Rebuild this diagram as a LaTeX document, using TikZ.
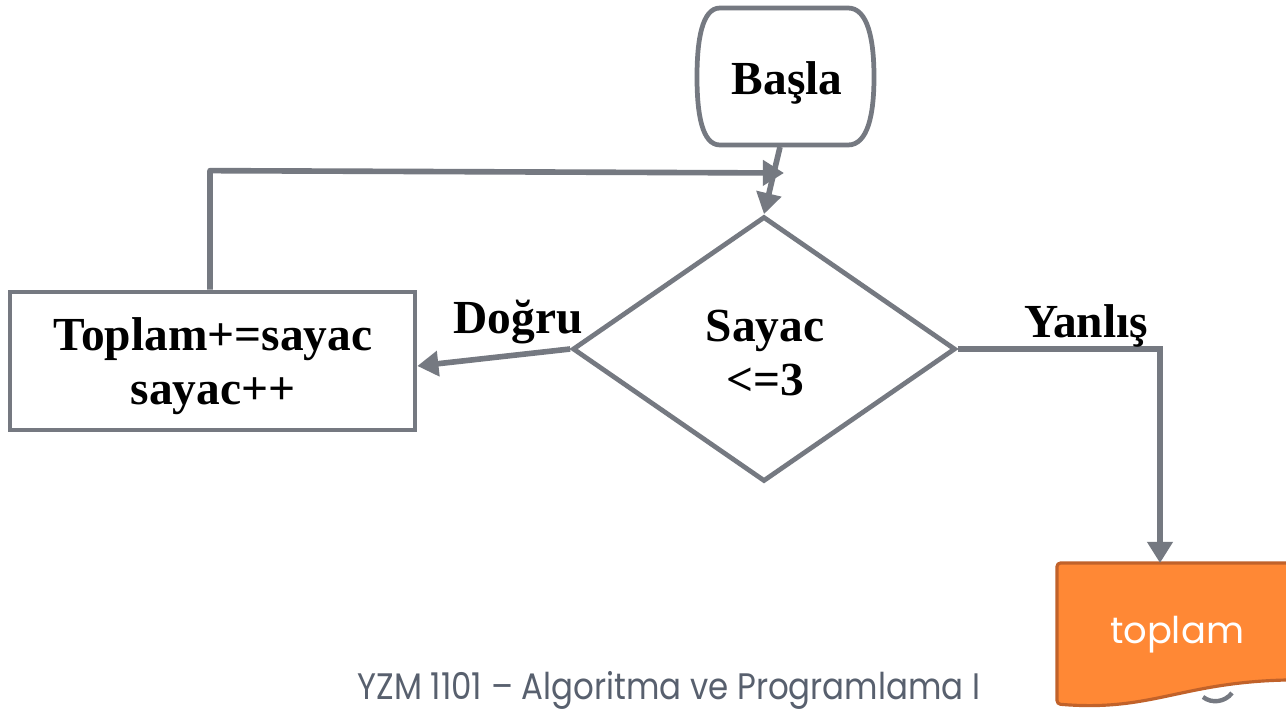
\documentclass[tikz,border=0pt]{standalone}
\usepackage{fontspec}
\setmainfont{Liberation Serif}
\newfontfamily\geofont{Poppins}
\usetikzlibrary{arrows.meta,shapes.geometric}
\definecolor{flowgray}{RGB}{117,121,129}
\definecolor{outorange}{RGB}{255,136,53}
\definecolor{outedge}{RGB}{193,98,42}
\definecolor{footgray}{RGB}{88,96,110}
\tikzset{
  conn/.style={draw=flowgray, line width=3.2pt, line join=round,
    -{Triangle[length=12pt,width=14pt]}},
  boxline/.style={draw=flowgray, line width=2.7pt},
  bigtxt/.style={font=\fontsize{27}{31}\selectfont\bfseries, align=center, inner sep=0pt},
}
\begin{document}
\begin{tikzpicture}[x=0.02cm,y=-0.02cm]
\useasboundingbox (0,0) rectangle (1286,710);
\fill[white] (0,0) rectangle (1286,710);

% start terminator
\draw[boxline, fill=white] (720,8) -- (848,8)
  .. controls (868,8) and (874,40) .. (874,77)
  .. controls (874,114) and (868,145) .. (848,145)
  -- (720,145)
  .. controls (702,145) and (697,114) .. (697,77)
  .. controls (697,40) and (702,8) .. (720,8) -- cycle;
\node[bigtxt] (basla) at (787,83) {Başla};
\coordinate (baslaout) at (780,147);

% decision
\node[diamond, boxline, fill=white, minimum width=7.66cm, minimum height=5.3cm, inner sep=0pt]
  (dec) at (764,349) {};
\node[bigtxt] (dectxt) at (765,353) {Sayac\\<=3};

% process box
\node[rectangle, boxline, fill=white, minimum width=8.1cm, minimum height=2.76cm]
  (proc) at (212.5,361) {};
\node[bigtxt] (proctxt) at (213,366) {Toplam+=sayac\\sayac++};

% output document
\draw[draw=outedge, fill=outorange, line width=1.8pt, rounded corners=2pt]
  (1057,563) -- (1300,563) -- (1300,680) -- (1286,680)
  .. controls (1180,683) and (1150,712) .. (1057,704) -- cycle;
\node[font=\geofont\fontsize{21}{24}\selectfont, text=white, anchor=base] (out) at (1177,643) {toplam};
\coordinate (outin) at (1160,563);
\draw[draw=flowgray, line width=2.5pt] (1203,697) .. controls (1212,704) and (1225,702) .. (1232,693);

% connectors
\draw[conn] (baslaout) -- (dec.north);
\draw[conn] ([xshift=-0.05cm]proc.north) -- ++(0,-119) -- (784,173);
\draw[conn] (dec.west) -- ([yshift=-0.1cm]proc.east);
\draw[conn, line join=miter] (dec.east) -- (dec.east -| outin) -- (outin);

% branch labels
\node[bigtxt] (yes) at (518,322) {Doğru};
\node[bigtxt] (no) at (1086,326) {Yanlış};

% footer
\node[font=\geofont\fontsize{21}{24}\selectfont, text=footgray, anchor=base] (footer) at (669,699)
  {\scalebox{0.88}[1]{YZM 1101 – Algoritma ve Programlama I}};
\end{tikzpicture}
\end{document}
